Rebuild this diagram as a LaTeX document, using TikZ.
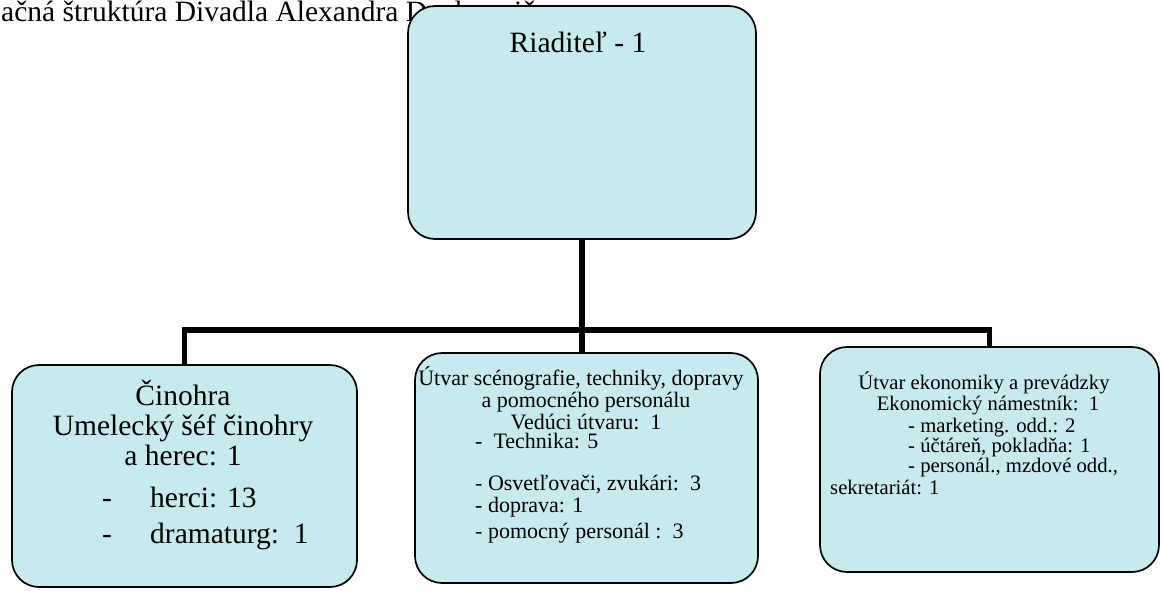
\documentclass[tikz,border=0pt]{standalone}
\usepackage{fontspec}
\setmainfont{Liberation Serif}
\definecolor{boxcyan}{RGB}{198,234,237}
\begin{document}
\begin{tikzpicture}[x=1pt,y=-1pt,
  orgbox/.style={draw=black, line width=1.7pt, fill=boxcyan, rounded corners=27pt, inner sep=0pt},
  conn/.style={line width=5.5pt, draw=black},
  bigtxt/.style={font=\fontsize{29.5}{30}\selectfont, inner sep=0pt},
  midtxt/.style={font=\fontsize{22}{22}\selectfont, inner sep=0pt},
  rtxt/.style={font=\fontsize{20.7}{21}\selectfont, inner sep=0pt}]
\useasboundingbox (0,0) rectangle (1163,590);
% title (top line of the page)
\node[bigtxt, anchor=base west] (title) at (1,21) {ačná štruktúra Divadla Alexandra Duchnoviča};
% boxes
\node[orgbox, minimum width=348pt, minimum height=233pt] (top) at (582,122.5) {};
\node[orgbox, minimum width=345pt, minimum height=222pt] (lft) at (184.5,476) {};
\node[orgbox, minimum width=343pt, minimum height=230pt] (mid) at (586.5,468) {};
\node[orgbox, minimum width=339pt, minimum height=225pt] (rgt) at (989.5,459.5) {};
% connectors
\coordinate (bar) at (582,330);
\draw[conn] (top.south) -- (top.south |- mid.north);
\draw[conn, line join=miter] (lft.north) |- (bar) -| (rgt.north);
% top text
\node[bigtxt, anchor=base] (t1) at (578,52) {Riaditeľ - 1};
% left text
\node[bigtxt, anchor=base] (l1) at (183,405) {Činohra};
\node[bigtxt, anchor=base] (l2) at (183,435) {Umelecký šéf činohry};
\node[bigtxt, anchor=base] (l3) at (183,465) {a herec: 1};
\node[bigtxt, anchor=base] (l4d) at (107,507) {-};
\node[bigtxt, anchor=base west] (l4) at (150,507) {herci: 13};
\node[bigtxt, anchor=base] (l5d) at (107,543) {-};
\node[bigtxt, anchor=base west] (l5) at (150,543) {dramaturg:\ \ 1};
% middle text
\node[midtxt, anchor=base] (m1) at (581,385) {Útvar scénografie, techniky, dopravy};
\node[midtxt, anchor=base] (m2) at (586,407) {a pomocného personálu};
\node[midtxt, anchor=base] (m3) at (586,429) {Vedúci útvaru:\ \ 1};
\node[midtxt, anchor=base west] (m4) at (475,448) {-\ \ Technika: 5};
\node[midtxt, anchor=base west] (m5) at (475,490) {- Osvetľovači, zvukári:\ \ 3};
\node[midtxt, anchor=base west] (m6) at (475,512) {- doprava: 1};
\node[midtxt, anchor=base west] (m7) at (475,538) {- pomocný personál :\ \ 3};
% right text
\node[rtxt, anchor=base] (r1) at (984,389) {Útvar ekonomiky a prevádzky};
\node[rtxt, anchor=base] (r2) at (988,410) {Ekonomický námestník:\ \ 1};
\node[rtxt, anchor=base west] (r3) at (908,432) {- marketing. odd.: 2};
\node[rtxt, anchor=base west] (r4) at (908,452) {- účtáreň, pokladňa: 1};
\node[rtxt, anchor=base west] (r5) at (908,472) {- personál., mzdové odd.,};
\node[rtxt, anchor=base west] (r6) at (830,494) {sekretariát: 1};
\end{tikzpicture}
\end{document}
